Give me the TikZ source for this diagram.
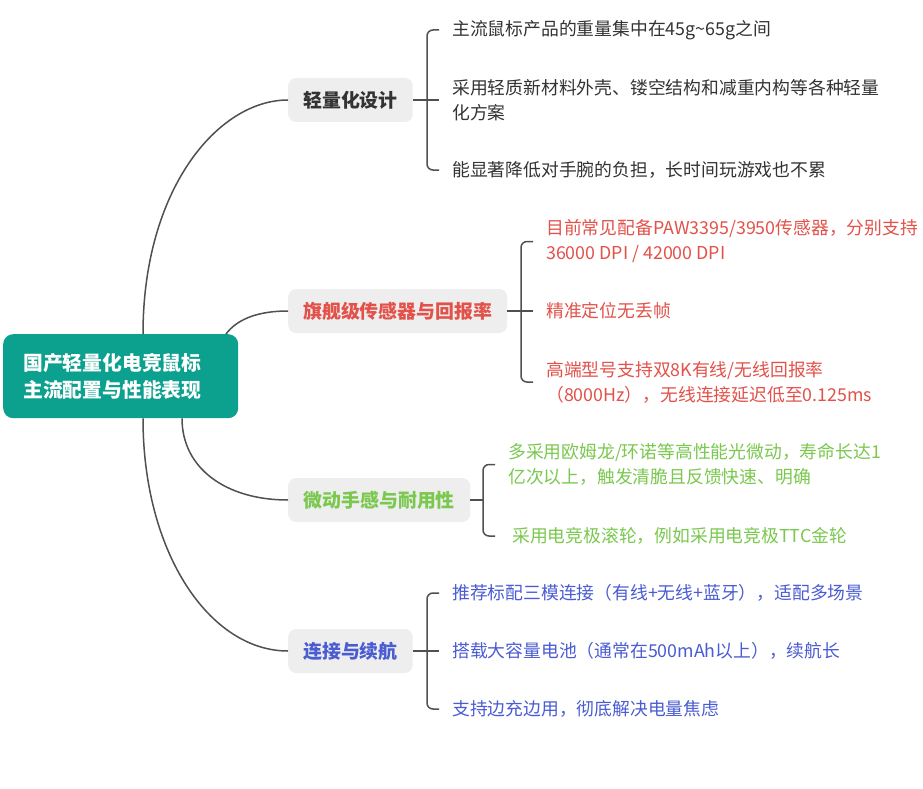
\documentclass[tikz,border=0pt]{standalone}
\usepackage{fontspec}
\setmainfont{Noto Sans CJK SC}
\usetikzlibrary{calc}
\definecolor{teal1}{RGB}{12,160,142}
\definecolor{boxgray}{RGB}{238,238,238}
\definecolor{txtdark}{RGB}{51,51,51}
\definecolor{red1}{RGB}{226,82,74}
\definecolor{green1}{RGB}{122,200,78}
\definecolor{blue1}{RGB}{74,92,210}
\definecolor{line1}{RGB}{80,80,80}
\begin{document}
\begin{tikzpicture}[x=1pt,y=-1pt,
 root/.style={fill=teal1, rounded corners=10pt, text=white,
   font=\fontsize{19.8}{26.5}\selectfont\bfseries, align=left, anchor=north west,
   minimum height=84pt, inner xsep=20pt, inner ysep=0pt, text width=195pt},
 branch/.style={fill=boxgray, rounded corners=8pt, font=\fontsize{18.9}{22}\selectfont\bfseries,
   anchor=west, minimum height=44pt, inner xsep=15pt, inner ysep=0pt},
 item/.style={anchor=west, align=left, inner sep=0pt, font=\fontsize{17.8}{25}\selectfont},
 conn/.style={draw=line1, line width=1.5pt},
 brk/.style={draw=line1, line width=1.5pt, rounded corners=6pt},
]
\useasboundingbox[fill=white] (0,0) rectangle (923,789);

% root
\node[root] (root) at (3,334) {国产轻量化电竞鼠标\\主流配置与性能表现};

% branches
\node[branch, text=txtdark] (b1) at (288,100) {轻量化设计};
\node[branch, text=red1] (b2) at (288,311) {旗舰级传感器与回报率};
\node[branch, text=green1, minimum width=182pt] (b3) at (288,500) {微动手感与耐用性};
\node[branch, text=blue1] (b4) at (288,651) {连接与续航};

% curves from root
\coordinate (r1) at ($(root.north west)+(140,0)$);
\coordinate (r2) at ($(root.north west)+(223,0)$);
\coordinate (r3) at ($(root.south west)+(179,0)$);
\coordinate (r4) at ($(root.south west)+(140,0)$);
\draw[conn] (r1) .. controls ($(r1)+(0,-145)$) and ($(b1.west)+(-70,0)$) .. (b1.west);
\draw[conn] (r2) .. controls ($(r2)+(12,-16)$) and ($(b2.west)+(-28,0)$) .. (b2.west);
\draw[conn] (r3) .. controls ($(r3)+(0,50)$) and ($(b3.west)+(-62,0)$) .. (b3.west);
\draw[conn] (r4) .. controls ($(r4)+(0,135)$) and ($(b4.west)+(-78,0)$) .. (b4.west);

% items: lightweight
\begin{scope}[every node/.style={item, text=txtdark}]
\node (a1) at (452,30) {主流鼠标产品的重量集中在45g\char"007E 65g之间};
\node (a2) at (452,100.5) {采用轻质新材料外壳、镂空结构和减重内构等各种轻量\\化方案};
\node (a3) at (452,170) {能显著降低对手腕的负担，长时间玩游戏也不累};
\end{scope}
% items: sensor
\begin{scope}[every node/.style={item, text=red1}]
\node (s1) at (546,241.5) {目前常见配备PAW3395/3950传感器，分别支持\\36000 DPI / 42000 DPI};
\node (s2) at (546,311) {精准定位无丢帧};
\node (s3) at (546,382) {高端型号支持双8K有线/无线回报率\\（8000Hz），无线连接延迟低至0.125ms};
\end{scope}
% items: switches
\begin{scope}[every node/.style={item, text=green1}]
\node (g1) at (508,464.5) {多采用欧姆龙/环诺等高性能光微动，寿命长达1\\亿次以上，触发清脆且反馈快速、明确};
\node (g2) at (512,536) {采用电竞极滚轮，例如采用电竞极TTC金轮};
\end{scope}
% items: connection
\begin{scope}[every node/.style={item, text=blue1}]
\node (c1) at (452,593) {推荐标配三模连接（有线+无线+蓝牙），适配多场景};
\node (c2) at (452,651) {搭载大容量电池（通常在500mAh以上），续航长};
\node (c3) at (452,709) {支持边充边用，彻底解决电量焦虑};
\end{scope}

% brackets
\draw[brk] ($(a1.west)+(-13,0)$) -- ($(a1.west)+(-25,0)$) |- ($(a3.west)+(-13,0)$);
\draw[conn] (b1.east) -- ($(b1.east -| a2.west)+(-13,0)$);

\draw[brk] ($(s1.west)+(-13,0)$) -- ($(s1.west)+(-25,0)$) |- ($(s3.west)+(-13,0)$);
\draw[conn] (b2.east) -- ($(b2.east -| s2.west)+(-13,0)$);

\draw[brk] ($(g1.west)+(-13,0)$) -- ($(g1.west)+(-25,0)$) |- ($(g2.west -| g1.west)+(-13,0)$);
\draw[conn] (b3.east) -- ($(b3.east -| g1.west)+(-25,0)$);

\draw[brk] ($(c1.west)+(-13,0)$) -- ($(c1.west)+(-25,0)$) |- ($(c3.west)+(-13,0)$);
\draw[conn] (b4.east) -- ($(b4.east -| c2.west)+(-13,0)$);
\end{tikzpicture}
\end{document}
